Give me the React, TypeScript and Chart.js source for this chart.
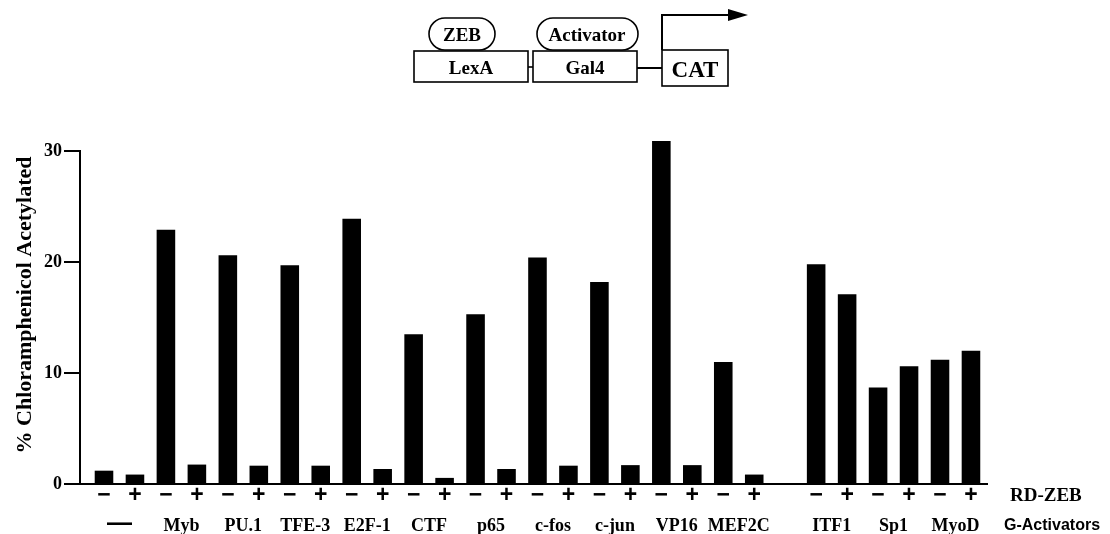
import React, { useEffect, useRef } from "react";
import { Chart, registerables } from "chart.js";

Chart.register(...registerables);

// ---- data ----
const groupLabels = ["—", "Myb", "PU.1", "TFE-3", "E2F-1", "CTF", "p65", "c-fos", "c-jun", "VP16", "MEF2C", "ITF1", "Sp1", "MyoD"];
const valuesWithoutRdZeb = [1.2, 22.9, 20.6, 19.7, 23.9, 13.5, 15.3, 20.4, 18.2, 30.9, 11.0, 19.8, 8.7, 11.2];
const valuesWithRdZeb = [0.85, 1.75, 1.65, 1.65, 1.35, 0.55, 1.35, 1.65, 1.7, 1.7, 0.85, 17.1, 10.6, 12.0];
const rdZebSigns = ["−", "+"];
// an empty category separates the second block of activators
const blankBeforeGroup = "ITF1";
const yTicks = [0, 10, 20, 30];
const yTitle = "% Chloramphenicol Acetylated";
const rowTitleSigns = "RD-ZEB";
const rowTitleGroups = "G-Activators";

type Slot = { group: number; sign: number } | null;

function buildSlots(): Slot[] {
  const s: Slot[] = [];
  groupLabels.forEach((g, gi) => {
    if (g === blankBeforeGroup) s.push(null);
    rdZebSigns.forEach((_, si) => s.push({ group: gi, sign: si }));
  });
  return s;
}

const slots = buildSlots();
const barData = slots
  .map((sl, i) =>
    sl ? { x: i, y: sl.sign === 0 ? valuesWithoutRdZeb[sl.group] : valuesWithRdZeb[sl.group] } : null
  )
  .filter((d) => d !== null) as { x: number; y: number }[];

const SERIF = '"Liberation Serif", "Times New Roman", serif';
const SANS = '"Liberation Sans", Arial, sans-serif';

const labelPlugin = {
  id: "labelPlugin",
  afterDraw(chart: any) {
    const ctx = chart.ctx as CanvasRenderingContext2D;
    const xs = chart.scales.x;
    ctx.save();
    ctx.fillStyle = "#000";
    ctx.textBaseline = "middle";
    ctx.textAlign = "center";
    // signs row
    ctx.font = `bold 23px ${SANS}`;
    slots.forEach((sl, i) => {
      if (!sl) return;
      ctx.fillText(rdZebSigns[sl.sign], xs.getPixelForValue(i), 496);
    });
    // group row
    const groupFont = `bold 18px ${SERIF}`;
    ctx.font = groupFont;
    const groupPos: number[][] = groupLabels.map(() => []);
    slots.forEach((sl, i) => {
      if (sl) groupPos[sl.group].push(xs.getPixelForValue(i));
    });
    groupLabels.forEach((g, gi) => {
      const p = groupPos[gi];
      const cx = (p[0] + p[p.length - 1]) / 2;
      if (g === "—") {
        ctx.font = `900 25px ${SANS}`;
        ctx.fillText(g, cx, 524);
        ctx.font = groupFont;
      } else {
        ctx.fillText(g, cx, 526);
      }
    });
    // row titles
    ctx.textAlign = "left";
    ctx.font = `bold 19px ${SERIF}`;
    ctx.fillText(rowTitleSigns, 1010, 496);
    ctx.font = `bold 16px ${SANS}`;
    ctx.fillText(rowTitleGroups, 1004, 526);
    // y title
    ctx.translate(25, 305);
    ctx.rotate(-Math.PI / 2);
    ctx.textAlign = "center";
    ctx.font = `bold 22px ${SERIF}`;
    ctx.fillText(yTitle, 0, 0);
    ctx.restore();
  },
};

function Diagram() {
  const st = { stroke: "#000", strokeWidth: 1.6, fill: "#fff" };
  const tf = { fontFamily: SERIF, fontWeight: 700, textAnchor: "middle" as const, dominantBaseline: "central" as const };
  return (
    <svg width={1110} height={100} style={{ position: "absolute", left: 0, top: 0 }}>
      <rect x={429} y={18} width={66} height={32} rx={16} ry={16} {...st} />
      <text x={462} y={34} fontSize={19} {...tf}>ZEB</text>
      <rect x={414} y={51} width={114} height={31} {...st} />
      <text x={471} y={67} fontSize={19} {...tf}>LexA</text>
      <line x1={528} y1={67} x2={533} y2={67} stroke="#000" strokeWidth={1.6} />
      <rect x={537} y={18} width={101} height={32} rx={16} ry={16} {...st} />
      <text x={587} y={34} fontSize={19} {...tf}>Activator</text>
      <rect x={533} y={51} width={104} height={31} {...st} />
      <text x={585} y={67} fontSize={19} {...tf}>Gal4</text>
      <line x1={637} y1={68} x2={662} y2={68} stroke="#000" strokeWidth={2} />
      <rect x={662} y={50} width={66} height={36} {...st} />
      <text x={695} y={69} fontSize={23} {...tf}>CAT</text>
      <polyline points="662,50 662,15 730,15" fill="none" stroke="#000" strokeWidth={2} />
      <polygon points="748,15 728,9 728,21" fill="#000" />
    </svg>
  );
}

export default function App() {
  const ref = useRef<HTMLCanvasElement>(null);
  useEffect(() => {
    if (!ref.current) return;
    const chart = new Chart(ref.current, {
      type: "bar",
      data: {
        datasets: [
          {
            data: barData as any,
            backgroundColor: "#000",
            borderWidth: 0,
            categoryPercentage: 1,
            barPercentage: 0.6,
            clip: false,
          } as any,
        ],
      },
      options: {
        responsive: false,
        animation: false,
        layout: { padding: { left: 0, right: 122, top: 151, bottom: 50 } },
        plugins: { legend: { display: false }, tooltip: { enabled: false }, title: { display: false } },
        scales: {
          x: {
            type: "linear",
            offset: false,
            min: -0.775,
            max: 28.55,
            display: false,
          },
          y: {
            min: 0,
            max: 30,
            afterFit: (s: any) => {
              s.width = 80;
            },
            afterBuildTicks: (s: any) => {
              s.ticks = yTicks.map((v) => ({ value: v }));
            },
            ticks: {
              color: "#000",
              padding: 2,
              font: { family: SERIF, weight: "bold", size: 18 },
            },
            grid: {
              drawOnChartArea: true,
              color: (c: any) => (c.tick && c.tick.value === 0 ? "#000" : "rgba(0,0,0,0)"),
              tickColor: "#000",
              tickLength: 16,
              lineWidth: 2,
            },
            border: { display: true, color: "#000", width: 2 },
          },
        },
      },
      plugins: [labelPlugin],
    });
    return () => chart.destroy();
  }, []);
  return (
    <div style={{ position: "fixed", left: 0, top: 0, width: 1110, height: 534, background: "#fff" }}>
      <canvas ref={ref} width={1110} height={534} style={{ position: "absolute", left: 0, top: 0 }} />
      <Diagram />
    </div>
  );
}
